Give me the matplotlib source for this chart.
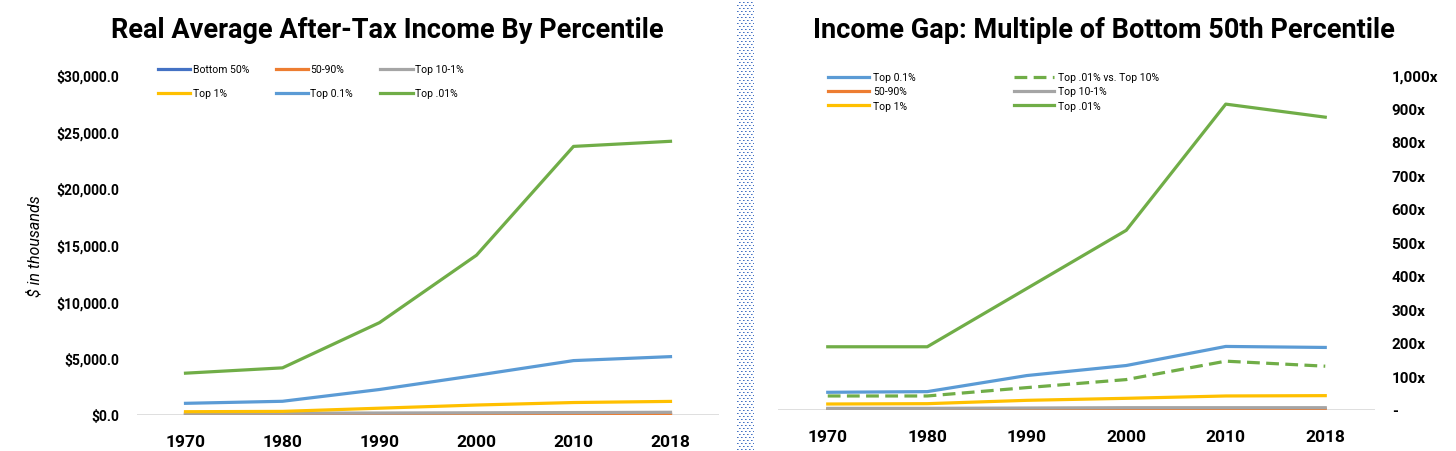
import numpy as np
import matplotlib
matplotlib.use("Agg")
import matplotlib.pyplot as plt
from matplotlib.ticker import FuncFormatter

plt.rcParams['font.family'] = ['Roboto', 'DejaVu Sans']

years = ['1970', '1980', '1990', '2000', '2010', '2018']

# left chart: real avg after-tax income, $ thousands
inc_bottom50 = [15, 16, 17, 18, 18, 20]
inc_50_90 = [55, 60, 65, 72, 75, 80]
inc_top10_1 = [150, 160, 175, 195, 215, 240]
inc_top1 = [290, 320, 600, 880, 1100, 1200]
inc_top01 = [1030, 1210, 2250, 3500, 4800, 5150]
inc_top001 = [3690, 4160, 8150, 14100, 23700, 24150]

# right chart: multiple of bottom 50%
gap_top01 = [52, 54, 102, 132, 189, 186]
gap_50_90 = [1.5, 1.6, 1.7, 1.9, 1.9, 1.9]
gap_top1 = [17, 18, 28, 34, 41, 42]
gap_001_vs_10 = [41, 41, 66, 90, 145, 130]
gap_top10_1 = [4, 4, 5, 6, 6, 6]
gap_top001 = [188, 188, 362, 536, 913, 874]

c_blue_dk = "#4472C4"
c_orange = "#ED7D31"
c_gray = "#A5A5A5"
c_yellow = "#FFC000"
c_blue = "#5B9BD5"
c_green = "#70AD47"
lw = 2.3

fig = plt.figure(figsize=(14.56, 4.52), dpi=100)
W, H = 1456.0, 452.0

x = np.arange(len(years))

# ---- left chart
ax1 = fig.add_axes([137 / W, 1 - 416 / H, 582 / W, 340 / H])
l_b50, = ax1.plot(x, inc_bottom50, color=c_blue_dk, lw=lw, label="Bottom 50%")
l_mid, = ax1.plot(x, inc_50_90, color=c_orange, lw=lw, label="50-90%")
l_t10, = ax1.plot(x, inc_top10_1, color=c_gray, lw=lw, label="Top 10-1%")
l_t1, = ax1.plot(x, inc_top1, color=c_yellow, lw=lw, label="Top 1%")
l_t01, = ax1.plot(x, inc_top01, color=c_blue, lw=lw, label="Top 0.1%")
l_t001, = ax1.plot(x, inc_top001, color=c_green, lw=lw, label="Top .01%")
ax1.set_xlim(-0.5, 5.5)
ax1.set_ylim(0, 30000)
ax1.set_yticks(np.arange(0, 30001, 5000))
ax1.yaxis.set_major_formatter(FuncFormatter(lambda v, p: "${:,.1f}".format(v / 1.0)))
ax1.set_xticks(x)
ax1.set_xticklabels(years)
ax1.set_ylabel("$ in thousands", fontsize=11.5, style="italic", labelpad=10)
ax1.legend([l_b50, l_t1, l_mid, l_t01, l_t10, l_t001],
           ["Bottom 50%", "Top 1%", "50-90%", "Top 0.1%", "Top 10-1%", "Top .01%"],
           ncol=3, loc="upper left", bbox_to_anchor=(154 / W, 1 - 61 / H),
           bbox_transform=fig.transFigure, frameon=False, fontsize=7.5,
           handlelength=3.1, handletextpad=0.2, labelspacing=1.35, columnspacing=2.6,
           borderaxespad=0)

# ---- right chart
ax2 = fig.add_axes([778 / W, 1 - 410.7 / H, 597 / W, 334.7 / H])
r_t01, = ax2.plot(x, gap_top01, color=c_blue, lw=lw, label="Top 0.1%")
r_mid, = ax2.plot(x, gap_50_90, color=c_orange, lw=lw, label="50-90%")
r_t1, = ax2.plot(x, gap_top1, color=c_yellow, lw=lw, label="Top 1%")
r_vs, = ax2.plot(x, gap_001_vs_10, color=c_green, lw=lw, dashes=(4, 2),
                 label="Top .01% vs. Top 10%")
r_t10, = ax2.plot(x, gap_top10_1, color=c_gray, lw=lw, label="Top 10-1%")
r_t001, = ax2.plot(x, gap_top001, color=c_green, lw=lw, label="Top .01%")
ax2.set_xlim(-0.5, 5.5)
ax2.set_ylim(0, 1000)
ax2.set_yticks(np.arange(0, 1001, 100))
ax2.yaxis.set_major_formatter(FuncFormatter(lambda v, p: "-" if v == 0 else "{:,.0f}x".format(v)))
ax2.yaxis.tick_right()
ax2.set_xticks(x)
ax2.set_xticklabels(years)
for t in ax2.get_yticklabels():
    t.set_horizontalalignment("left")
ax2.legend([r_t01, r_mid, r_t1, r_vs, r_t10, r_t001],
           ["Top 0.1%", "50-90%", "Top 1%", "Top .01% vs. Top 10%", "Top 10-1%", "Top .01%"],
           ncol=2, loc="upper left", bbox_to_anchor=(824 / W, 1 - 69 / H),
           bbox_transform=fig.transFigure, frameon=False, fontsize=7.5,
           handlelength=3.9, handletextpad=0.4, labelspacing=0.4, columnspacing=9.4,
           borderaxespad=0)

for ax in (ax1, ax2):
    for s in ax.spines.values():
        s.set_visible(False)
    ax.axhline(0, color="#D9D9D9", lw=1.2, zorder=0)
    ax.tick_params(length=0)
    ax.tick_params(axis="x", labelsize=12.5, pad=14)
    for t in ax.get_xticklabels() + ax.get_yticklabels():
        t.set_fontweight("bold")
ax1.tick_params(axis="y", labelsize=10, pad=13)
ax2.tick_params(axis="y", labelsize=11, pad=12)

fig.text(387 / W, 1 - 30 / H, "Real Average After-Tax Income By Percentile",
         ha="center", va="center", fontsize=19.5, fontweight="bold")
fig.text(1104 / W, 1 - 30 / H, "Income Gap: Multiple of Bottom 50th Percentile",
         ha="center", va="center", fontsize=19.5, fontweight="bold")

# dotted divider between the two charts
pw, ph = 17, 452
pat = np.ones((ph, pw, 3))
dot = np.array(matplotlib.colors.to_rgb("#4472C4"))
for r in range(0, ph, 3):
    off = 0 if (r // 3) % 2 == 0 else 2
    for cc in range(off, pw, 4):
        pat[r, cc] = dot
        if cc + 1 < pw:
            pat[r, cc + 1] = dot * 0.6 + 0.4
axd = fig.add_axes([737 / W, 0, pw / W, 1])
axd.imshow(pat, aspect="auto", interpolation="nearest")
axd.axis("off")

fig.savefig("out.png", dpi=100)
